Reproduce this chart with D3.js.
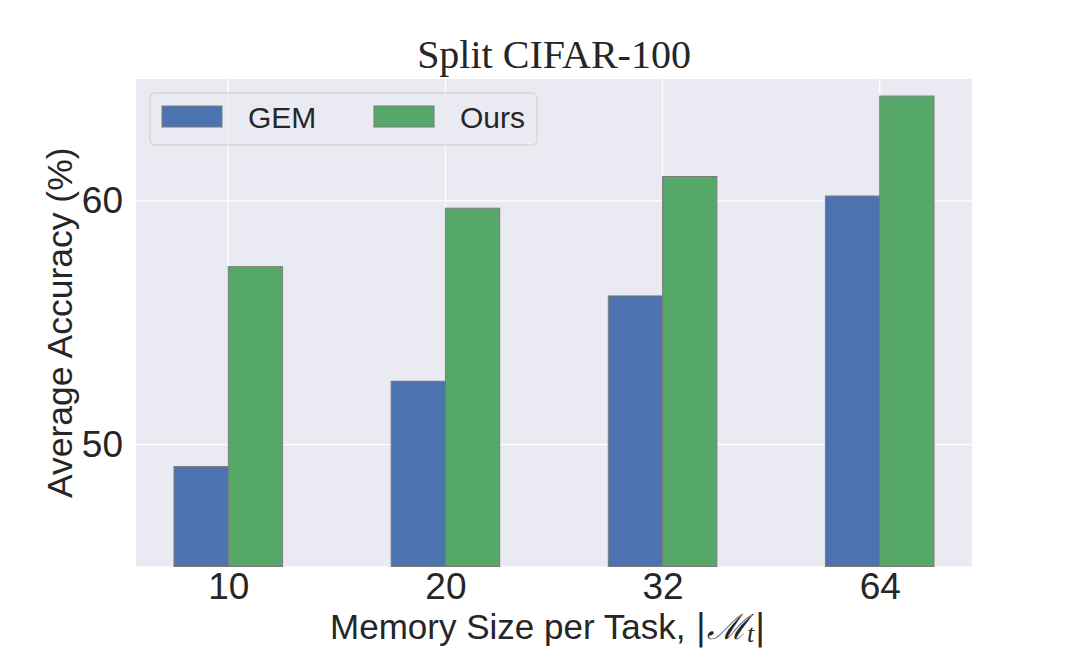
<!DOCTYPE html>
<html>
<head>
<meta charset="utf-8">
<script src="https://cdn.jsdelivr.net/npm/d3@7/dist/d3.min.js"></script>
<style>
  body { margin: 0; background: #fff; }
  text { font-family: "Liberation Sans", Arial, sans-serif; fill: #262626; }
</style>
</head>
<body>
<svg id="chart" width="1080" height="648"></svg>
<script>
// data
const memorySizes = ["10", "20", "32", "64"];
const gemAcc = [49.1, 52.6, 56.1, 60.2];
const oursAcc = [57.3, 59.7, 61.0, 64.3];
const yTicks = [50, 60];
const seriesNames = ["GEM", "Ours"];
const seriesColors = ["#4C72B0", "#55A868"];

const svg = d3.select("#chart");
const plotL = 136, plotR = 972, plotT = 79, plotB = 566.5;
const barW = 0.25;

// matplotlib style 5% margins around the bar extent
const span = (memorySizes.length - 1) + 2 * barW;
const x = d3.scaleLinear()
  .domain([-barW - 0.05 * span, memorySizes.length - 1 + barW + 0.05 * span])
  .range([plotL, plotR]);
const y = d3.scaleLinear().domain([45, 65]).range([plotB, plotT]);

// background + grid
svg.append("rect")
  .attr("x", plotL).attr("y", plotT)
  .attr("width", plotR - plotL).attr("height", plotB - plotT)
  .attr("fill", "#EAEAF2");

const grid = svg.append("g");
grid.selectAll("line.gy").data(yTicks).enter().append("line")
  .attr("x1", plotL).attr("x2", plotR)
  .attr("y1", d => y(d)).attr("y2", d => y(d))
  .attr("stroke", "#fff").attr("stroke-width", 1.3);
grid.selectAll("line.gx").data(memorySizes).enter().append("line")
  .attr("x1", (d, i) => x(i)).attr("x2", (d, i) => x(i))
  .attr("y1", plotT).attr("y2", plotB)
  .attr("stroke", "#fff").attr("stroke-width", 1.3);

// bars
const series = [gemAcc, oursAcc];
series.forEach(function (vals, s) {
  svg.append("g").selectAll("rect").data(vals).enter().append("rect")
    .attr("x", (d, i) => x(i + (s - 1) * barW))
    .attr("width", x(barW) - x(0))
    .attr("y", d => y(d))
    .attr("height", d => plotB - y(d))
    .attr("fill", seriesColors[s])
    .attr("stroke", "#7a7a7a")
    .attr("stroke-width", 1);
});

// axes
const xAxis = svg.append("g")
  .attr("transform", "translate(0," + plotB + ")")
  .call(d3.axisBottom(x).tickValues(d3.range(memorySizes.length))
    .tickFormat(i => memorySizes[i]).tickSize(0).tickPadding(6.5));
xAxis.select(".domain").remove();
xAxis.selectAll("text").style("font-size", "37px").attr("fill", "#262626")
  .attr("dy", "0.71em");

const yAxis = svg.append("g")
  .attr("transform", "translate(" + plotL + ",0)")
  .call(d3.axisLeft(y).tickValues(yTicks).tickSize(0).tickPadding(13));
yAxis.select(".domain").remove();
yAxis.selectAll("text").style("font-size", "37px").attr("fill", "#262626");

// title
svg.append("text")
  .attr("x", (plotL + plotR) / 2).attr("y", 68)
  .attr("text-anchor", "middle")
  .style("font-family", "'Liberation Serif', 'Times New Roman', serif")
  .style("font-size", "40px")
  .text("Split CIFAR-100");

// axis labels
const xl = svg.append("text")
  .attr("x", (plotL + plotR) / 2 - 6).attr("y", 639)
  .attr("text-anchor", "middle")
  .style("font-size", "35px");
xl.append("tspan").text("Memory Size per Task, ");
xl.append("tspan").style("font-family", "'DejaVu Sans', sans-serif").text("|");
xl.append("tspan").style("font-family", "'DejaVu Serif', serif").style("font-style", "italic").text("\u2133");
xl.append("tspan").attr("dy", 3).style("font-family", "'Liberation Serif', serif")
  .style("font-style", "italic").style("font-size", "26px").text("t");
xl.append("tspan").attr("dy", -3).style("font-family", "'DejaVu Sans', sans-serif").text("|");

svg.append("text")
  .attr("transform", "translate(72," + (plotT + plotB) / 2 + ") rotate(-90)")
  .attr("text-anchor", "middle")
  .style("font-size", "35.5px")
  .text("Average Accuracy (%)");

// legend
const lg = svg.append("g").attr("transform", "translate(150,93)");
lg.append("rect")
  .attr("width", 387).attr("height", 52).attr("rx", 5)
  .attr("fill", "#EAEAF2").attr("fill-opacity", 0.8)
  .attr("stroke", "#cccccc").attr("stroke-width", 1);
seriesNames.forEach(function (name, s) {
  const g = lg.append("g").attr("transform", "translate(" + (12 + s * 212) + ",0)");
  g.append("rect")
    .attr("y", 13).attr("width", 60).attr("height", 21)
    .attr("fill", seriesColors[s]).attr("stroke", "#7a7a7a").attr("stroke-width", 1);
  g.append("text").attr("x", 86).attr("y", 35)
    .style("font-size", "30px").text(name);
});
</script>
</body>
</html>
